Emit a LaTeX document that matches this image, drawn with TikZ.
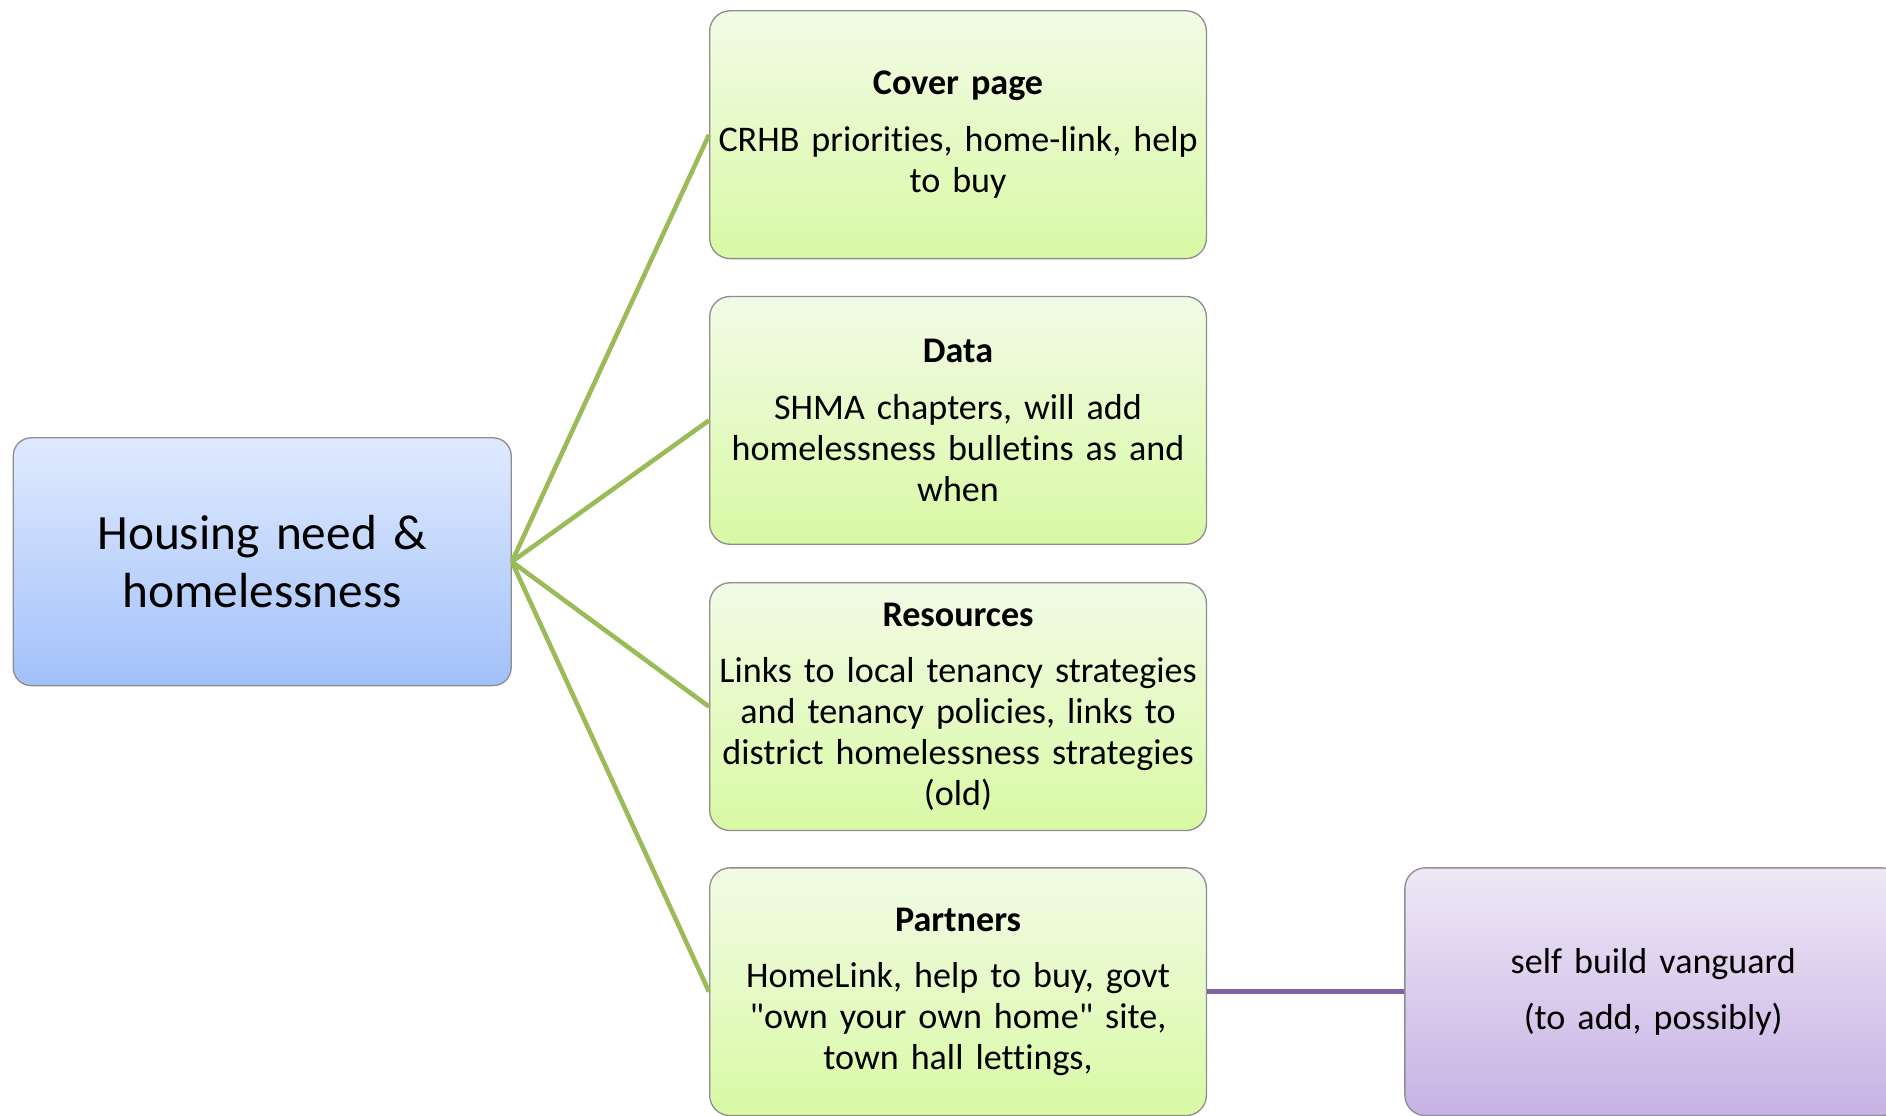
\documentclass[tikz,border=0pt]{standalone}
\usepackage{fontspec}
\setmainfont{Carlito}[Ligatures={TeXOff,CommonOff}]
\definecolor{gline}{HTML}{9BBB59}
\definecolor{pline}{HTML}{8064A2}
\definecolor{gtop}{HTML}{F2FBE6}
\definecolor{gbot}{HTML}{D9F9A4}
\definecolor{btop}{HTML}{E0EAFE}
\definecolor{bbot}{HTML}{A2C1FA}
\definecolor{ptop}{HTML}{EEE8F6}
\definecolor{pbot}{HTML}{C7B2E4}
\definecolor{edge}{HTML}{8E8E8E}
\tikzset{
  box/.style={draw=edge, line width=1.1pt, rounded corners=17pt, align=center,
    minimum width=413pt, minimum height=206pt, inner sep=0pt, text width=405pt},
  greenbox/.style={box, top color=gtop, bottom color=gbot,
    font=\fontsize{30}{34}\selectfont},
  bluebox/.style={box, top color=btop, bottom color=bbot, rounded corners=15pt,
    minimum width=414pt, font=\fontsize{41}{48}\selectfont},
  purplebox/.style={box, top color=ptop, bottom color=pbot,
    font=\fontsize{30}{34}\selectfont},
  gconn/.style={draw=gline, line width=3.8pt},
  pconn/.style={draw=pline, line width=4pt}
}
\begin{document}
\begin{tikzpicture}[x=1pt,y=-1pt]
\useasboundingbox (0,0) rectangle (1568,927);
\node[bluebox] (main) at (218,467) {Housing need \&\\homelessness};
\node[greenbox] (cover) at (796.5,112) {\textbf{Cover page}\\[13pt]CRHB priorities, home-link, help\\to buy};
\node[greenbox] (data) at (796.5,349.5) {\textbf{Data}\\[13pt]SHMA chapters, will add\\homelessness bulletins as and\\when};
\node[greenbox] (res) at (796.5,587.5) {\textbf{Resources}\\[13pt]Links to local tenancy strategies\\and tenancy policies, links to\\district homelessness strategies\\(old)};
\node[greenbox] (part) at (796.5,824.5) {\textbf{Partners}\\[13pt]HomeLink, help to buy, govt\\"own your own home" site,\\town hall lettings,};
\node[purplebox] (self) at (1374.5,824.5) {self build vanguard\\[13pt](to add, possibly)};
\draw[gconn] (main.east) -- (cover.west);
\draw[gconn] (main.east) -- (data.west);
\draw[gconn] (main.east) -- (res.west);
\draw[gconn] (main.east) -- (part.west);
\draw[pconn] (part.east) -- (self.west);
\end{tikzpicture}
\end{document}
